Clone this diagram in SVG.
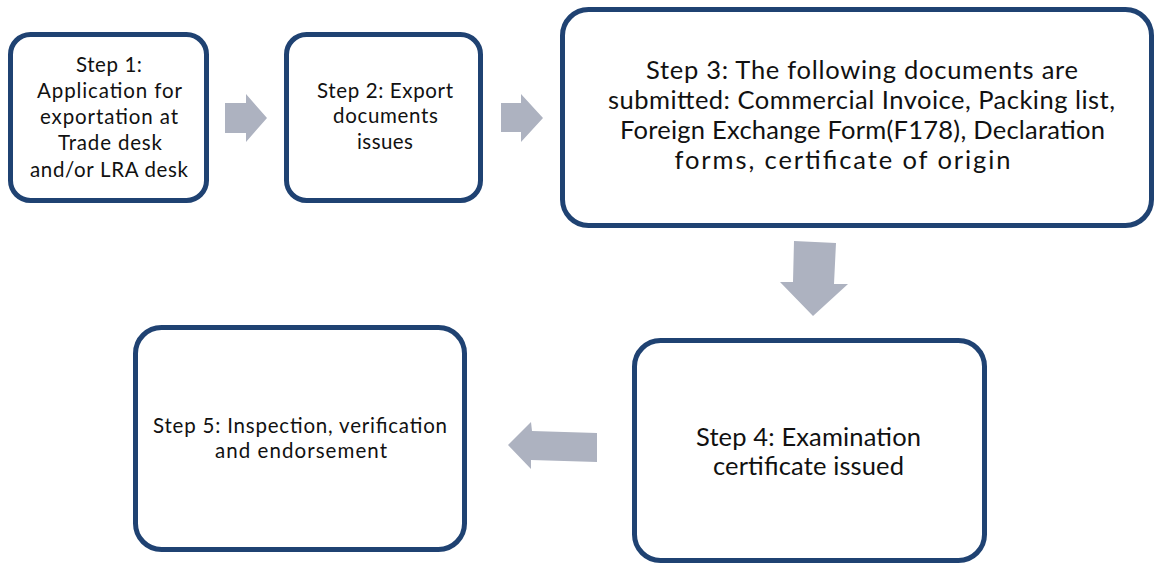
<svg xmlns="http://www.w3.org/2000/svg" width="1155" height="564" viewBox="0 0 1155 564">
<style>
.box{fill:#ffffff;stroke:#1f4272;stroke-width:5}
.arr{fill:#adb2c0}
text{font-family:Lato,"Open Sans","Liberation Sans",sans-serif;fill:#111;text-anchor:middle}
.s{font-size:20.5px}
.l{font-size:25.5px}
</style>
<rect width="1155" height="564" fill="#ffffff"/>
<g id="connectors">
<polygon class="arr" points="225,103 246,103 246,94 267,118 246,142 246,133 225,133"/>
<polygon class="arr" points="501,103 521,103 521,94 543,118 521,142 521,132 501,132"/>
<polygon class="arr" points="794,241 836,243 834,284 848,284 813,316 780,282 793,282"/>
<polygon class="arr" points="508,445 531,422 532,431 597,433 597,462 531,460 531,469"/>
</g>
<g id="step1">
<rect class="box" x="10.5" y="34.5" width="196" height="166" rx="20"/>
<text class="s" x="109" y="72" textLength="66" lengthAdjust="spacing">Step 1:</text>
<text class="s" x="109.5" y="98" textLength="145" lengthAdjust="spacing">Application for</text>
<text class="s" x="109" y="124" textLength="138" lengthAdjust="spacing">exportation at</text>
<text class="s" x="110" y="150" textLength="104" lengthAdjust="spacing">Trade desk</text>
<text class="s" x="109" y="177" textLength="158" lengthAdjust="spacing">and/or LRA desk</text>
</g>
<g id="step2">
<rect class="box" x="286.5" y="34.5" width="194" height="166" rx="20"/>
<text class="s" x="385" y="98" textLength="136" lengthAdjust="spacing">Step 2: Export</text>
<text class="s" x="385.5" y="123" textLength="105" lengthAdjust="spacing">documents</text>
<text class="s" x="385" y="149" textLength="56" lengthAdjust="spacing">issues</text>
</g>
<g id="step3">
<rect class="box" x="562.5" y="9.5" width="589" height="216" rx="26"/>
<text class="l" x="862" y="79" textLength="432" lengthAdjust="spacing">Step 3: The following documents are</text>
<text class="l" x="861.5" y="109" textLength="507" lengthAdjust="spacing">submitted: Commercial Invoice, Packing list,</text>
<text class="l" x="862.5" y="139" textLength="485" lengthAdjust="spacing">Foreign Exchange Form(F178), Declaration</text>
<text class="l" x="842.5" y="169" textLength="336" lengthAdjust="spacing">forms, certificate of origin</text>
</g>
<g id="step4">
<rect class="box" x="634.5" y="340.5" width="350" height="220" rx="26"/>
<text class="l" x="808.5" y="446" textLength="225" lengthAdjust="spacing">Step 4: Examination</text>
<text class="l" x="808.5" y="475" textLength="191" lengthAdjust="spacing">certificate issued</text>
</g>
<g id="step5">
<rect class="box" x="135.5" y="327.5" width="329" height="222" rx="26"/>
<text class="s" x="300" y="433" textLength="294" lengthAdjust="spacing">Step 5: Inspection, verification</text>
<text class="s" x="301" y="458" textLength="172" lengthAdjust="spacing">and endorsement</text>
</g>
</svg>
